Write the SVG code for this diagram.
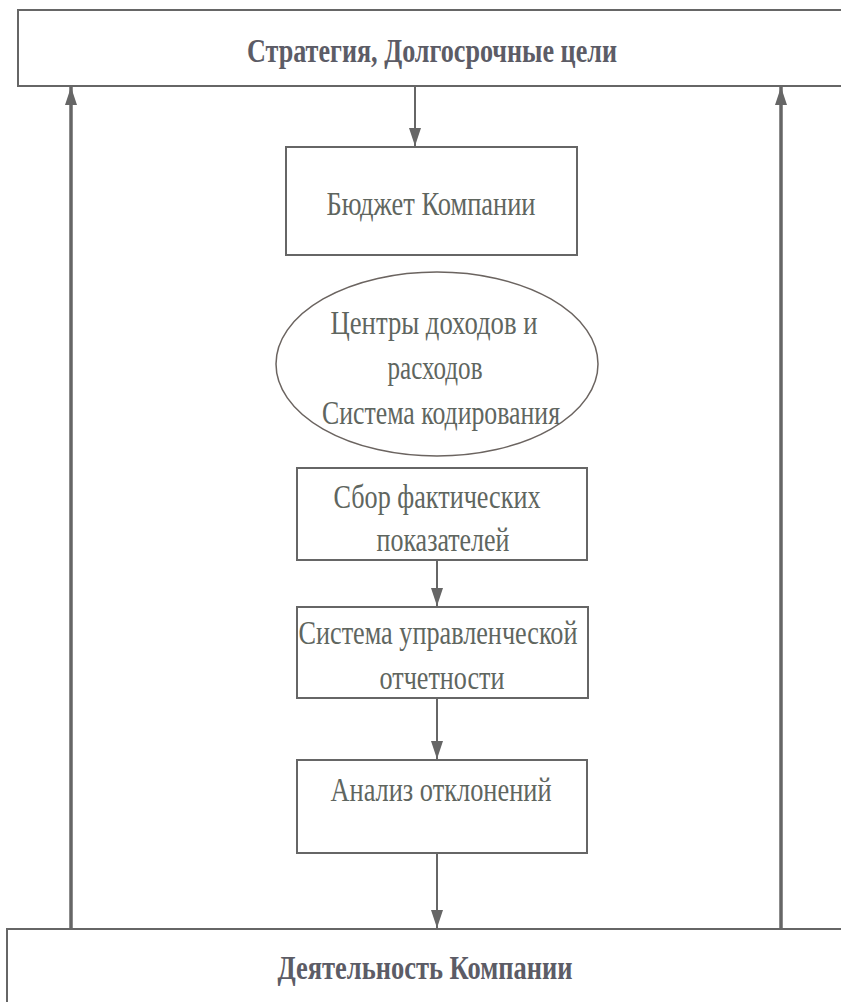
<svg xmlns="http://www.w3.org/2000/svg" width="841" height="1002" viewBox="0 0 841 1002">
  <style>
    .box { fill: #ffffff; stroke: #666666; stroke-width: 2; }
    .title { font-family: "Liberation Serif", "Times New Roman", serif; font-weight: bold; font-size: 33px; fill: #5c5c66; text-anchor: middle; }
    .label { font-family: "Liberation Serif", "Times New Roman", serif; font-size: 33px; fill: #5f665f; text-anchor: middle; }
    .link { stroke: #666666; stroke-width: 2; fill: none; }
    .feedback { stroke: #666666; stroke-width: 3.5; fill: none; }
  </style>
  <defs>
    <!-- arrowhead drawn along +x, rotated to follow each line -->
    <marker id="arrow" markerUnits="userSpaceOnUse" markerWidth="18" markerHeight="12" viewBox="0 0 18 12" refX="18" refY="6" orient="auto">
      <path d="M0,0 L18,6 L0,12 Z" fill="#666666"/>
    </marker>
  </defs>
  <rect width="841" height="1002" fill="#ffffff"/>

  <g id="connectors">
    <line class="link" x1="415" y1="86" x2="415" y2="146" marker-end="url(#arrow)"/>
    <line class="link" x1="437" y1="560" x2="437" y2="606" marker-end="url(#arrow)"/>
    <line class="link" x1="437" y1="698" x2="437" y2="759" marker-end="url(#arrow)"/>
    <line class="link" x1="437" y1="853" x2="437" y2="928" marker-end="url(#arrow)"/>
    <line class="feedback" x1="71" y1="929" x2="71" y2="87" marker-end="url(#arrow)"/>
    <line class="feedback" x1="781" y1="929" x2="781" y2="87" marker-end="url(#arrow)"/>
  </g>

  <g id="strategy">
    <rect class="box" x="18" y="10" width="840" height="76"/>
    <text class="title" x="432" y="62" textLength="370" lengthAdjust="spacingAndGlyphs">Стратегия, Долгосрочные цели</text>
  </g>

  <g id="budget">
    <rect class="box" x="286" y="147" width="291" height="108"/>
    <text class="label" x="431" y="215" textLength="209" lengthAdjust="spacingAndGlyphs">Бюджет Компании</text>
  </g>

  <g id="centers">
    <ellipse cx="437" cy="364" rx="161" ry="92" fill="#ffffff" stroke="#6b6460" stroke-width="1.5"/>
    <text class="label" x="434" y="334" textLength="207" lengthAdjust="spacingAndGlyphs">Центры доходов и</text>
    <text class="label" x="435" y="379" textLength="95" lengthAdjust="spacingAndGlyphs">расходов</text>
    <text class="label" x="441" y="424" textLength="238" lengthAdjust="spacingAndGlyphs">Система кодирования</text>
  </g>

  <g id="actuals">
    <rect class="box" x="297" y="468" width="290" height="92"/>
    <text class="label" x="437" y="508" textLength="207" lengthAdjust="spacingAndGlyphs">Сбор фактических</text>
    <text class="label" x="443" y="551" textLength="133" lengthAdjust="spacingAndGlyphs">показателей</text>
  </g>

  <g id="reporting">
    <rect class="box" x="297" y="607" width="291" height="91"/>
    <text class="label" x="438" y="644" textLength="279" lengthAdjust="spacingAndGlyphs">Система управленческой</text>
    <text class="label" x="442" y="689" textLength="125" lengthAdjust="spacingAndGlyphs">отчетности</text>
  </g>

  <g id="variance">
    <rect class="box" x="297" y="760" width="290" height="93"/>
    <text class="label" x="441" y="801" textLength="221" lengthAdjust="spacingAndGlyphs">Анализ отклонений</text>
  </g>

  <g id="operations">
    <rect class="box" x="7" y="929" width="850" height="90"/>
    <text class="title" x="425" y="979" textLength="295" lengthAdjust="spacingAndGlyphs">Деятельность Компании</text>
  </g>
</svg>
